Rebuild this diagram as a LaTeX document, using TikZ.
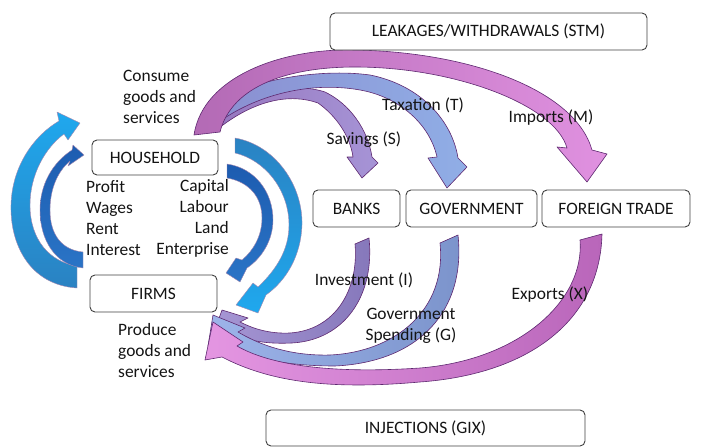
\documentclass[tikz,border=0pt]{standalone}
\usepackage{fontspec}
\setmainfont{Carlito}
\newcommand\lblfont{\fontsize{17.4}{21}\selectfont}
\definecolor{boxc}{HTML}{404040}
\definecolor{txt}{HTML}{141414}
\definecolor{olP}{HTML}{5E2870}
\definecolor{lbA}{HTML}{1FA8EE}
\definecolor{lbB}{HTML}{2A82C2}
\definecolor{dbA}{HTML}{1D5CB0}
\definecolor{dbB}{HTML}{2A74C6}
\definecolor{mgA}{HTML}{B36AB5}
\definecolor{mgB}{HTML}{E091E0}
\definecolor{txA}{HTML}{8A8ED0}
\definecolor{txB}{HTML}{90AEE6}
\definecolor{svA}{HTML}{9677BF}
\definecolor{svB}{HTML}{A694D6}
\definecolor{inA}{HTML}{A696D4}
\definecolor{inB}{HTML}{8577BA}
\definecolor{gvA}{HTML}{9DB4EA}
\definecolor{gvB}{HTML}{7B93CB}
\definecolor{exA}{HTML}{E496E2}
\definecolor{exB}{HTML}{B966BA}
\begin{document}
\begin{tikzpicture}[x=1pt,y=-1pt,
  box/.style={draw=boxc, line width=0.9pt, rounded corners=5pt, fill=white, inner sep=0pt, font=\lblfont, text=txt},
  lab/.style={inner sep=0pt, font=\lblfont, text=txt},
  arr/.style={draw=#1, line width=0.6pt, line join=round},
  barr/.style={draw=olP!55, line width=0.4pt, line join=round}
]
\useasboundingbox (0,0) rectangle (713,447);

% injection arrows
\shadedraw[arr=olP, left color=inA, right color=inB]
 (355,244) .. controls (359,290) and (335,330) .. (290,333)
 .. controls (268,334) and (252,328) .. (240,322)
 -- (248,318) -- (222,310) -- (214,332) -- (232,334)
 .. controls (252,342) and (270,344) .. (292,343)
 .. controls (345,340) and (375,295) .. (369,238) -- cycle;
\shadedraw[arr=olP, left color=gvA, right color=gvB]
 (440,243) .. controls (447,310) and (395,352) .. (330,355)
 .. controls (290,356) and (260,345) .. (238,332)
 -- (245,328) -- (213,315) -- (208,346) -- (226,346)
 .. controls (260,362) and (300,366) .. (335,366)
 .. controls (420,362) and (466,310) .. (458,235) -- cycle;
\shadedraw[arr=olP, left color=exA, right color=exB]
 (580,240) .. controls (585,300) and (520,360) .. (420,368)
 .. controls (330,374) and (270,365) .. (237,346)
 -- (243,342) -- (213,322) -- (205,360) -- (222,357)
 .. controls (270,382) and (330,390) .. (420,382)
 .. controls (530,374) and (600,320) .. (602,234) -- cycle;

% circular flow arrows
\shadedraw[barr, top color=lbA, bottom color=lbB]
 (77,288) .. controls (30,285) and (10,245) .. (11,205) .. controls (12,165) and (35,135) .. (59,121)
 -- (57,112) -- (80,123) -- (68,140) -- (64,134)
 .. controls (45,148) and (30,175) .. (30,205) .. controls (30,240) and (50,262) .. (77,266) -- cycle;
\shadedraw[barr, top color=dbA, bottom color=dbB]
 (83,268) .. controls (55,265) and (40,240) .. (40,210) .. controls (40,185) and (52,163) .. (72,150)
 -- (73,145) -- (84,155) -- (68,166) -- (70,161)
 .. controls (57,172) and (50,190) .. (50,210) .. controls (50,235) and (62,250) .. (83,252) -- cycle;
\shadedraw[barr, top color=dbA, bottom color=dbB]
 (227,164) .. controls (255,168) and (273,192) .. (273,220) .. controls (273,240) and (262,258) .. (247,268)
 -- (240,282) -- (226,273) -- (236,258) -- (242,260)
 .. controls (254,250) and (262,235) .. (262,218) .. controls (262,198) and (250,182) .. (227,178) -- cycle;
\shadedraw[barr, top color=lbB, bottom color=lbA]
 (235,138) .. controls (275,145) and (303,185) .. (302,225) .. controls (301,255) and (287,280) .. (266,295)
 -- (258,313) -- (236,305) -- (253,283) -- (258,287)
 .. controls (276,270) and (289,250) .. (289,225) .. controls (289,190) and (265,160) .. (235,153) -- cycle;

% leakage arrows
\shadedraw[arr=olP, left color=svA, right color=svB]
 (217,116) .. controls (245,90) and (295,82) .. (325,92)
 .. controls (350,104) and (368,130) .. (372,157)
 -- (378,163) -- (362,178) -- (347,157) -- (353,157)
 .. controls (350,135) and (335,115) .. (318,103)
 .. controls (290,93) and (255,100) .. (219,128) -- cycle;
\shadedraw[arr=olP, left color=txA, right color=txB]
 (214,108) .. controls (240,80) and (320,68) .. (370,75)
 .. controls (420,85) and (452,120) .. (458,158)
 -- (467,167) -- (447,188) -- (428,158) -- (437,157)
 .. controls (430,125) and (400,97) .. (360,90)
 .. controls (310,81) and (255,95) .. (216,124) -- cycle;
\shadedraw[arr=olP, left color=mgA, right color=mgB]
 (194,135) .. controls (203,75) and (285,48) .. (355,50)
 .. controls (470,52) and (575,90) .. (592,150)
 -- (607,154) -- (587,182) -- (557,147) -- (567,148)
 .. controls (555,105) and (455,67) .. (355,67)
 .. controls (290,67) and (232,85) .. (220,132) -- cycle;

% boxes
\node[box, minimum width=317pt, minimum height=37pt] (leak) at (488.5,31.5) {LEAKAGES/WITHDRAWALS (STM)};
\node[box, minimum width=126pt, minimum height=35pt] (house) at (155,157.5) {HOUSEHOLD};
\node[box, minimum width=127pt, minimum height=37pt] (firms) at (153.5,293.5) {FIRMS};
\node[box, minimum width=87pt, minimum height=37pt] (banks) at (356.5,208.5) {BANKS};
\node[box, minimum width=131pt, minimum height=37pt] (gov) at (471.5,208.5) {GOVERNMENT};
\node[box, minimum width=148pt, minimum height=37pt] (ft) at (616,208.5) {FOREIGN TRADE};
\node[box, minimum width=319pt, minimum height=36pt] (inj) at (425.5,428) {INJECTIONS (GIX)};

% labels
\node[lab, align=left, anchor=west] (consume) at (123,97) {Consume\\goods and\\services};
\node[lab, align=left, anchor=west] (income) at (86,218.5) {Profit\\Wages\\Rent\\Interest};
\node[lab, align=right, anchor=east] (factors) at (229,218.5) {Capital\\Labour\\Land\\Enterprise};
\node[lab, align=left, anchor=west] (produce) at (118,351) {Produce\\goods and\\services};
\node[lab] (sav) at (364,140) {Savings (S)};
\node[lab] (tax) at (423,105) {Taxation (T)};
\node[lab] (imp) at (551,118) {Imports (M)};
\node[lab] (inv) at (364,280) {Investment (I)};
\node[lab, align=center] (gsp) at (411,326) {Government\\Spending (G)};
\node[lab] (exp) at (550,295) {Exports (X)};
\end{tikzpicture}
\end{document}
